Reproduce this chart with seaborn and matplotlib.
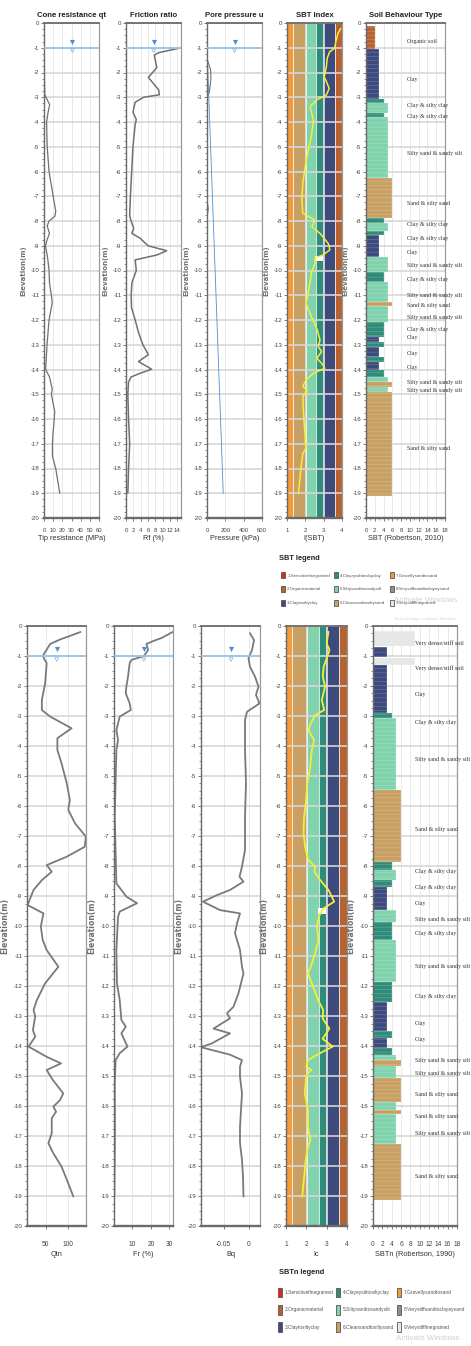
import numpy as np
import matplotlib
matplotlib.use("Agg")
import matplotlib.pyplot as plt
from matplotlib.ticker import MultipleLocator, FixedLocator
from matplotlib.patches import Patch
import seaborn as sns

# ---------------------------------------------------------------- data
# --- top row: raw CPT (depth in m below surface) ---
qt_depth = [1.0, 2.0, 2.9, 3.3, 3.6, 4.0, 5.0, 6.0, 7.0, 7.6, 7.8, 8.0, 8.2, 8.5, 8.8, 9.0,
            9.5, 10.0, 10.5, 11.0, 11.3, 12.0, 13.0, 14.0, 14.3, 14.8, 15.0, 15.7, 16.3,
            16.5, 17.0, 17.5, 18.0, 19.0]
qt_value = [0.3, 0.4, 0.8, 6.2, 4.5, 2.8, 3.5, 5.5, 10.0, 12.8, 12.0, 5.5, 3.5, 6.0, 3.0, 1.6,
            4.0, 5.5, 6.0, 8.0, 9.0, 5.5, 3.3, 1.8, 6.0, 9.0, 8.0, 11.7, 10.6,
            9.9, 9.2, 9.2, 12.8, 17.2]

rf_depth = [1.0, 1.2, 1.3, 1.8, 2.2, 2.7, 2.9, 3.0, 3.2, 3.6, 3.9, 4.1, 5.0, 7.0, 7.8, 8.0,
            8.3, 8.5, 8.7, 9.0, 9.2, 9.37, 9.57, 10.0, 10.5, 11.0, 11.5, 12.0, 12.5, 13.0,
            13.4, 13.68, 13.99, 14.15, 14.3, 14.5, 15.0, 16.0, 17.0, 18.0, 19.0]
rf_value = [15.0, 8.9, 7.7, 8.4, 6.1, 8.9, 9.1, 4.8, 2.5, 1.9, 2.8, 2.5, 1.9, 1.2, 1.0, 1.4,
            2.1, 1.6, 3.9, 6.0, 11.1, 8.5, 2.5, 2.8, 1.6, 1.4, 1.5, 2.5, 3.4, 4.6,
            6.1, 3.4, 7.0, 3.9, 1.4, 0.7, 0.5, 0.7, 1.0, 0.7, 0.5]

u2_depth = [1.0, 1.5, 1.9, 2.3, 2.8, 3.0, 7.2, 7.5, 7.8, 19.0]
u2_value = [0.0, 5.0, 40.0, 42.0, 25.0, 2.0, 2.0, 14.0, 2.0, 2.0]
u0_depth = [1.0, 19.0]
u0_value = [0.0, 177.0]

ic_depth = [0.22, 0.42, 0.76, 1.02, 1.16, 1.43, 1.76, 2.17, 2.37, 2.64, 2.91, 3.11, 3.38,
            3.65, 3.92, 4.46, 5.13, 5.8, 6.48, 7.15, 7.69, 7.96, 8.23, 8.5, 8.9, 9.0, 9.17,
            9.37, 9.5, 9.71, 10.05, 10.65, 11.33, 11.73, 12.4, 12.81, 13.07, 13.28, 13.55,
            13.75, 13.95, 14.15, 14.42, 14.69, 14.83, 15.1, 15.77, 16.7, 16.98, 17.12,
            17.4, 18.06, 18.98]
ic_value = [3.93, 3.78, 3.66, 3.6, 3.33, 3.19, 3.15, 3.03, 3.15, 3.3, 3.15, 2.62, 2.26,
            2.35, 2.44, 2.35, 2.17, 1.99, 1.86, 1.81, 1.86, 2.53, 2.35, 2.8, 3.24, 3.3, 3.33,
            2.97, 2.53, 2.53, 2.35, 2.22, 2.04, 2.26, 2.65, 2.8, 2.7, 2.89, 2.62,
            2.89, 3.06, 2.44, 2.04, 1.86, 2.11, 1.86, 1.9, 1.99, 1.99, 2.08,
            1.86, 1.75, 1.63]

sbt_top = [0.12, 1.06, 3.09, 3.25, 3.62, 3.8, 6.28, 7.89, 8.1, 8.4, 8.55, 9.44, 10.05,
           10.45, 11.26, 11.43, 12.07, 12.67, 12.87, 13.08, 13.48, 13.68, 14.02, 14.29,
           14.49, 14.69, 14.9]
sbt_bottom = [1.06, 3.09, 3.25, 3.62, 3.8, 6.28, 7.89, 8.1, 8.4, 8.55, 9.44, 10.05, 10.45,
              11.26, 11.43, 12.07, 12.67, 12.87, 13.08, 13.48, 13.68, 14.02, 14.29, 14.49,
              14.69, 14.9, 19.12]
sbt_zone = [2, 3, 4, 5, 4, 5, 6, 4, 5, 4, 3, 5, 4, 5, 6, 5, 4, 3, 4, 3, 4, 3, 4, 5, 6, 5, 6]

sbt_label_depth = [0.75, 2.3, 3.35, 3.79, 5.27, 7.28, 8.16, 8.7, 9.28, 9.78, 10.38, 10.99,
                   11.43, 11.89, 12.4, 12.7, 13.37, 13.91, 14.53, 14.83, 17.18]
sbt_label_text = ["Organic soil", "Clay", "Clay & silty clay", "Clay & silty clay",
                  "Silty sand & sandy silt", "Sand & silty sand", "Clay & silty clay",
                  "Clay & silty clay", "Clay", "Silty sand & sandy silt", "Clay & silty clay",
                  "Silty sand & sandy silt", "Sand & silty sand", "Silty sand & sandy silt",
                  "Clay & silty clay", "Clay", "Clay", "Clay", "Silty sand & sandy silt",
                  "Silty sand & sandy silt", "Sand & silty sand"]

# --- bottom row: normalised parameters ---
qtn_depth = [0.2, 0.45, 0.6, 1.0, 1.24, 1.91, 2.47, 2.8, 3.02, 3.41, 3.74, 4.13, 4.58, 5.24,
             5.8, 6.13, 6.58, 7.02, 7.36, 7.69, 7.97, 8.19, 8.47, 8.8, 9.3, 9.58, 10.02,
             10.47, 10.8, 11.36, 11.91, 12.47, 12.8, 13.02, 13.47, 13.69, 14.02, 14.36,
             14.58, 14.8, 15.13, 15.58, 15.8, 16.02, 16.19, 16.41, 16.91, 17.24, 17.58,
             18.02, 18.58, 19.02]
qtn_value = [129.5, 82.6, 60.0, 43.0, 52.0, 48.5, 41.0, 41.0, 60.0, 109.0, 76.5, 76.5, 86.0,
             98.0, 105.0, 101.5, 117.0, 141.7, 139.0, 98.0, 52.0, 63.6, 41.0, 22.0, 8.3,
             44.7, 38.6, 43.0, 52.0, 78.8, 48.5, 29.5, 22.0, 25.8, 20.5, 25.8, 10.6, 52.0,
             85.0, 52.0, 66.0, 90.0, 82.6, 67.4, 73.5, 63.6, 63.6, 56.0, 67.4, 86.0, 101.5,
             113.0]

fr_depth = [0.2, 0.4, 0.5, 0.6, 0.8, 1.0, 1.13, 1.24, 1.69, 2.02, 2.24, 2.58, 2.8, 3.02,
            3.47, 3.8, 4.13, 6.36, 8.58, 9.02, 9.24, 9.52, 9.69, 10.8, 11.91, 12.47, 13.13,
            13.36, 13.58, 14.02, 14.24, 14.47, 15.24, 16.91, 19.02]
fr_value = [31.8, 25.8, 21.3, 17.6, 18.5, 16.2, 9.5, 8.5, 7.6, 6.7, 6.4, 8.5, 9.1, 3.1,
            1.3, 2.2, 1.3, 0.4, 1.3, 6.7, 12.5, 3.1, 2.2, 1.3, 1.6, 3.1, 4.0,
            6.4, 4.0, 7.3, 3.1, 0.9, 0.4, 0.5, 0.2]

bq_depth = [0.24, 0.47, 0.8, 1.08, 1.36, 1.69, 2.02, 2.3, 2.58, 2.86, 3.13, 4.13, 5.24,
            6.36, 7.47, 8.02, 8.36, 8.52, 8.8, 8.97, 9.19, 9.47, 9.58, 9.91, 10.24, 10.8,
            11.36, 11.58, 12.24, 12.69, 12.91, 13.08, 13.42, 13.58, 13.91, 14.04, 14.29,
            14.47, 14.69, 15.02, 15.58, 16.13, 16.69, 17.24, 17.8, 18.36, 19.02]
bq_value = [0.003, 0.011, 0.007, 0.0, 0.003, 0.013, 0.02, 0.015, 0.022, -0.003, -0.007,
            -0.007, -0.005, -0.007, -0.007, -0.013, -0.018, -0.01, -0.037, -0.063, -0.091,
            -0.057, -0.017, -0.023, -0.027, -0.017, -0.013, -0.01, -0.02, -0.03, -0.043,
            -0.037, -0.07, -0.037, -0.073, -0.095, -0.037, -0.013, -0.017, -0.017, -0.013,
            -0.015, -0.017, -0.017, -0.013, -0.011, -0.01]

icn_depth = [0.19, 0.58, 0.8, 1.08, 1.36, 1.69, 2.02, 2.47, 2.8, 2.97, 3.3, 3.47, 3.8, 4.13,
             4.69, 5.24, 5.8, 6.36, 6.91, 7.36, 7.8, 8.02, 8.19, 8.47, 8.8, 9.19, 9.41,
             9.63, 10.02, 10.47, 10.91, 11.36, 11.58, 12.02, 12.47, 12.8, 13.08, 13.42,
             13.76, 14.02, 14.24, 14.47, 14.69, 14.8, 14.96, 15.58, 16.13, 16.69, 17.13,
             17.36, 17.8, 19.02]
icn_value = [3.09, 3.0, 3.14, 3.0, 2.85, 2.81, 2.92, 2.76, 2.88, 2.43, 2.19, 2.1, 2.38,
             2.27, 2.19, 2.05, 1.99, 1.89, 1.86, 1.94, 2.1, 2.43, 2.4, 2.68, 3.09, 3.37,
             2.85, 2.65, 2.52, 2.6, 2.43, 2.22, 2.08, 2.33, 2.58, 2.83, 2.8, 3.13,
             2.8, 3.3, 2.67, 2.08, 2.0, 2.25, 2.0, 1.92, 2.08, 2.08, 2.2,
             2.08, 1.97, 1.8]

sbtn_top = [0.16, 0.69, 1.08, 1.3, 2.91, 3.08, 5.47, 7.86, 8.13, 8.47, 8.69, 9.47, 9.86,
            10.47, 11.86, 12.52, 13.49, 13.72, 14.07, 14.29, 14.47, 14.67, 15.08, 15.86,
            16.13, 16.27, 17.28]
sbtn_bottom = [0.67, 1.02, 1.3, 2.91, 3.08, 5.47, 7.86, 8.13, 8.47, 8.69, 9.47, 9.86,
               10.47, 11.86, 12.52, 13.49, 13.72, 14.07, 14.29, 14.47, 14.67, 15.08, 15.86,
               16.13, 16.27, 17.28, 19.13]
sbtn_zone = [9, 3, 9, 3, 4, 5, 6, 4, 5, 4, 3, 5, 4, 5, 4, 3, 4, 3, 4, 5, 6, 5, 6, 5, 6, 5, 6]

sbtn_label_depth = [0.56, 1.39, 2.3, 3.22, 4.44, 6.8, 8.19, 8.71, 9.24, 9.8, 10.24, 11.36,
                    12.36, 13.24, 13.8, 14.47, 14.91, 15.63, 16.36, 16.91, 18.36]
sbtn_label_text = ["Very dense/stiff soil", "Very dense/stiff soil", "Clay",
                   "Clay & silty clay", "Silty sand & sandy silt", "Sand & silty sand",
                   "Clay & silty clay", "Clay & silty clay", "Clay",
                   "Silty sand & sandy silt", "Clay & silty clay", "Silty sand & sandy silt",
                   "Clay & silty clay", "Clay", "Clay", "Silty sand & sandy silt",
                   "Silty sand & sandy silt", "Sand & silty sand", "Sand & silty sand",
                   "Silty sand & sandy silt", "Sand & silty sand"]

# white gap in the Ic profile
gap_depth = [9.4, 9.6]
gap_ic = [2.55, 2.95]

# water table
wt_depth = 1.0
wt_marker_top = [31.0, 7.5, 300.0]
wt_marker_bottom = [75.0, 16.2, -0.035]

# zones, boundaries, legend
zone_names = ["1.Sensitivefinegrained", "2.Organicmaterial", "3.Claytosiltyclay",
              "4.Clayeysilttosiltyclay", "5.Siltysandtosandysilt", "6.Cleansandtosiltysand",
              "7.Gravellysandtosand", "8.Verystiffsandtoclayeysand", "9.Verystifffinegrained"]
zone_colors = ["#E5221D", "#B6632F", "#3C4A7C", "#2E8C78", "#80D3AD", "#C8A063",
               "#F39A3A", "#8E8E8E", "#E6E6E6"]
ic_bounds = [1.0, 1.31, 2.05, 2.6, 2.95, 3.6, 4.0]
ic_band_zone = [7, 6, 5, 4, 3, 2]

# ---------------------------------------------------------------- style
sns.set_style("white")
SANS = ["Liberation Sans", "DejaVu Sans"]
plt.rcParams["font.family"] = SANS
plt.rcParams["axes.unicode_minus"] = False
plt.rcParams["hatch.linewidth"] = 0.2

W, H = 471, 1346
fig = plt.figure(figsize=(W / 100, H / 100), dpi=100)


def add_ax(x0, x1, y0, y1):
    return fig.add_axes([x0 / W, 1 - y1 / H, (x1 - x0) / W, (y1 - y0) / H])


def style(ax, xlim, xticks, xlabel, xtl=None, title=None, xpad=5, xfs=4.3, ylabfs=5.0,
          minor_x=None):
    ax.set_ylim(-20, 0)
    ax.set_xlim(*xlim)
    ax.yaxis.set_major_locator(FixedLocator(range(-20, 1)))
    ax.set_yticklabels([str(v) for v in range(-20, 1)])
    ax.yaxis.set_minor_locator(MultipleLocator(0.25))
    ax.set_xticks(xticks)
    if xtl is not None:
        ax.set_xticklabels(xtl)
    if minor_x is not None:
        ax.xaxis.set_minor_locator(MultipleLocator(minor_x))
    ax.tick_params(axis="y", which="major", labelsize=4.4, length=2.0, width=0.6,
                   color="#666", labelcolor="#444", pad=1.2, left=True)
    ax.tick_params(axis="y", which="minor", length=1.2, width=0.6, color="#777", left=True)
    ax.tick_params(axis="x", which="major", labelsize=xfs, length=2.0, width=0.6,
                   color="#666", labelcolor="#444", pad=xpad, bottom=True)
    ax.tick_params(axis="x", which="minor", length=1.5, width=0.5, color="#777",
                   bottom=True)
    ax.set_xlabel(xlabel, fontsize=5.3, color="#333", labelpad=2)
    ax.set_ylabel("Elevation(m)", fontsize=ylabfs, color="#707070", labelpad=3,
                  family="DejaVu Sans", fontweight="bold")
    ax.grid(axis="y", which="major", color="#d6d6d6", lw=1.4, alpha=0.85)
    ax.grid(axis="x", which="major", color="#e4e4e4", lw=0.6)
    ax.set_axisbelow(True)
    for s, c, w in (("left", "#6a6a6a", 1.0), ("bottom", "#6a6a6a", 1.7),
                    ("top", "#6a6a6a", 1.3), ("right", "#9a9a9a", 0.9)):
        ax.spines[s].set_color(c)
        ax.spines[s].set_linewidth(w)
        ax.spines[s].set_visible(True)
    if title:
        ax.set_title(title, fontsize=5.6, fontweight="bold", color="#222", pad=4)


def neg(a):
    return -np.asarray(a, dtype=float)


def profile(ax, x, d, color="#707070", lw=0.9):
    sns.lineplot(x=np.asarray(x, dtype=float), y=neg(d), sort=False, estimator=None,
                 color=color, lw=lw, ax=ax)


def water(ax, xm):
    ax.axhline(-wt_depth, color="#98C6EC", lw=1.3, zorder=3)
    ax.scatter([xm], [-wt_depth + 0.22], marker="v", s=14, color="#4A8FD8", zorder=4,
               linewidths=0)
    ax.scatter([xm], [-wt_depth - 0.12], marker="v", s=7, facecolor="none",
               edgecolor="#7FB4E6", linewidths=0.5, zorder=4)


def ic_bands(ax):
    for i, z in enumerate(ic_band_zone):
        ax.axvspan(ic_bounds[i], ic_bounds[i + 1], color=zone_colors[z - 1], lw=0,
                   zorder=0.2)
    for b in ic_bounds[1:-1]:
        ax.axvline(b, color="white", lw=0.7, alpha=0.8, zorder=0.3)
    ax.fill_betweenx(neg(gap_depth), gap_ic[0], gap_ic[1], color="white", lw=0, zorder=0.4)


def sbt_bars(ax, top, bot, zone, labels_d, labels_t, xlab):
    top = np.asarray(top); bot = np.asarray(bot)
    ax.barh(y=-(top + bot) / 2, width=zone, height=bot - top, left=0,
            color=[zone_colors[z - 1] for z in zone], edgecolor=(1, 1, 1, 0.55),
            linewidth=0.25, hatch="----", zorder=2)
    for d, t in zip(labels_d, labels_t):
        ax.text(xlab, -d, t, fontsize=4.3, family="Liberation Serif", color="#333",
                va="center", ha="left", clip_on=False, zorder=5)


# ---------------------------------------------------------------- top row
ty0, ty1 = 23, 518
ax = add_ax(44, 99, ty0, ty1)
profile(ax, qt_value, qt_depth)
water(ax, wt_marker_top[0])
style(ax, (0, 60), range(0, 61, 10), "Tip resistance (MPa)", title="Cone resistance qt")

ax = add_ax(126, 181, ty0, ty1)
profile(ax, rf_value, rf_depth, lw=1.1)
water(ax, wt_marker_top[1])
style(ax, (0, 15), range(0, 15, 2), "Rf (%)", title="Friction ratio")

ax = add_ax(207, 262, ty0, ty1)
profile(ax, u2_value, u2_depth, lw=0.8)
sns.lineplot(x=u0_value, y=neg(u0_depth), sort=False, estimator=None, color="#4F8FD0",
             lw=0.6, ax=ax)
water(ax, wt_marker_top[2])
style(ax, (0, 600), [0, 200, 400, 600], "Pressure (kPa)", title="Pore pressure u")

ax = add_ax(287, 342, ty0, ty1)
ic_bands(ax)
profile(ax, ic_value, ic_depth, color="#F3EE3A", lw=1.1)
style(ax, (1, 4), [1, 2, 3, 4], "I(SBT)", title="SBT Index")

ax = add_ax(366, 445, ty0, ty1)
sbt_bars(ax, sbt_top, sbt_bottom, sbt_zone, sbt_label_depth, sbt_label_text, 9.3)
style(ax, (0, 18), range(0, 19, 2), "SBT (Robertson, 2010)", title="Soil Behaviour Type",
      minor_x=1)

# ---------------------------------------------------------------- bottom row
by0, by1 = 626, 1226
ax = add_ax(27, 86, by0, by1)
profile(ax, qtn_value, qtn_depth, color="#7a7a7a", lw=1.3)
water(ax, wt_marker_bottom[0])
style(ax, (7, 142), [50, 100], "Qtn", xpad=9, xfs=4.8, ylabfs=5.6)

ax = add_ax(114, 173, by0, by1)
profile(ax, fr_value, fr_depth, color="#7a7a7a", lw=1.3)
water(ax, wt_marker_bottom[1])
style(ax, (0, 32), [10, 20, 30], "Fr (%)", xpad=9, xfs=4.8, ylabfs=5.6)

ax = add_ax(201, 260, by0, by1)
profile(ax, bq_value, bq_depth, color="#7a7a7a", lw=1.3)
water(ax, wt_marker_bottom[2])
style(ax, (-0.095, 0.023), [-0.05, 0], "Bq", xtl=["-0.05", "0"], xpad=9, xfs=4.8,
      ylabfs=5.6)

ax = add_ax(286, 347, by0, by1)
ic_bands(ax)
profile(ax, icn_value, icn_depth, color="#F3EE3A", lw=1.3)
style(ax, (1, 4), [1, 2, 3, 4], "Ic", xpad=9, xfs=4.8, ylabfs=5.6)

ax = add_ax(373, 457, by0, by1)
sbt_bars(ax, sbtn_top, sbtn_bottom, sbtn_zone, sbtn_label_depth, sbtn_label_text, 9.0)
style(ax, (0, 18), range(0, 19, 2), "SBTn (Robertson, 1990)", xpad=9, xfs=4.8,
      ylabfs=5.6, minor_x=1)

# ---------------------------------------------------------------- legends
handles = [Patch(facecolor=c, edgecolor="#555", linewidth=0.6) for c in zone_colors]
legend_specs = [
    # title, title pos (x, y), column x positions, top of first row, font, handle h, spacing
    ("SBT legend", (279, 558), (281, 334, 390), 572, 3.2, 1.8, 1.7),
    ("SBTn legend", (279, 1273), (278, 336, 397), 1288, 3.5, 2.6, 1.6),
]
for title, (tx, tyy), cols, top_y, fs, hh, ls in legend_specs:
    fig.text(tx / W, 1 - tyy / H, title, fontsize=5.3, fontweight="bold", color="#222",
             va="center", ha="left")
    for k, cx in enumerate(cols):
        leg = fig.legend(handles[3 * k:3 * k + 3], zone_names[3 * k:3 * k + 3],
                         loc="upper left", bbox_to_anchor=(cx / W, 1 - top_y / H),
                         ncol=1, frameon=False, fontsize=fs, handlelength=0.9,
                         handleheight=hh, handletextpad=0.5, labelspacing=ls,
                         borderpad=0, borderaxespad=0)
        for t in leg.get_texts():
            t.set_color("#555")

# faint OS watermark visible in the source image
fig.text(394 / W, 1 - 600 / H, "Activate Windows", fontsize=5.8, color="#d0d0d0",
         va="center", ha="left")
fig.text(394 / W, 1 - 619 / H, "Go to Settings to activate Windows.", fontsize=2.9,
         color="#d4d4d4", va="center", ha="left")
fig.text(396 / W, 1 - 1338 / H, "Activate Windows", fontsize=5.8, color="#d0d0d0",
         va="center", ha="left")

fig.savefig("out.png", dpi=100)
